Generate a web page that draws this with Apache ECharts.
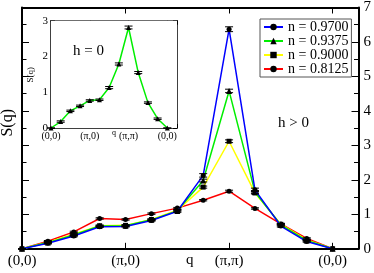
<!DOCTYPE html>
<html><head><meta charset="utf-8">
<script src="https://cdn.jsdelivr.net/npm/echarts@6/dist/echarts.min.js"></script>
<style>html,body{margin:0;padding:0;background:#fff}#c{width:374px;height:273px}</style>
</head><body><div id="c"></div>
<script>
const qIndex = [0,1,2,3,4,5,6,7,8,9,10,11,12];
const tickLabels = ['(0,0)','(π,0)','(π,π)','(0,0)'];
const yTicks = [0,1,2,3,4,5,6,7];
const names = ['n = 0.9700','n = 0.9375','n = 0.9000','n = 0.8125'];
const s0970 = [0, 0.16, 0.37, 0.64, 0.65, 0.82, 1.09, 2.13, 6.37, 1.71, 0.66, 0.21, 0];
const s09375 = [0, 0.18, 0.40, 0.66, 0.67, 0.84, 1.10, 1.98, 4.58, 1.65, 0.69, 0.24, 0];
const s0900 = [0, 0.19, 0.42, 0.67, 0.68, 0.85, 1.12, 1.79, 3.12, 1.62, 0.71, 0.26, 0];
const s08125 = [0, 0.22, 0.49, 0.88, 0.85, 1.02, 1.18, 1.41, 1.67, 1.17, 0.72, 0.30, 0];
const e0970 = [0, 0.02, 0.02, 0.02, 0.02, 0.02, 0.03, 0.05, 0.07, 0.05, 0.03, 0.02, 0];
const e09375 = [0, 0.02, 0.02, 0.02, 0.02, 0.02, 0.03, 0.04, 0.05, 0.04, 0.03, 0.02, 0];
const e0900 = [0, 0.02, 0.02, 0.02, 0.02, 0.02, 0.02, 0.03, 0.04, 0.03, 0.02, 0.02, 0];
const e08125 = [0, 0.02, 0.02, 0.02, 0.02, 0.02, 0.02, 0.02, 0.03, 0.02, 0.02, 0.02, 0];
const h0 = [0, 0.18, 0.48, 0.62, 0.77, 0.79, 1.13, 1.79, 2.81, 1.55, 0.71, 0.26, 0];
const eh0 = [0, 0.02, 0.02, 0.02, 0.02, 0.02, 0.03, 0.03, 0.04, 0.03, 0.02, 0.02, 0];

const FONT = 'Liberation Serif';
const colors = ['#0000ff','#00ee00','#ffff00','#ff0000'];
const symbols = ['circle','triangle','rect','circle'];
const mainData = [s0970, s09375, s0900, s08125];
const mainErr = [e0970, e09375, e0900, e08125];

function fmt(v){ return (v % 4 === 0 && v/4 < tickLabels.length) ? tickLabels[v/4] : ''; }

function errSeries(vals, errs, xi, yi, cap){
  return {
    type:'custom', xAxisIndex:xi, yAxisIndex:yi, silent:true, z:6,
    data: vals.map((v,i)=>[qIndex[i], v, errs[i]]),
    renderItem:(params, api)=>{
      const x=api.value(0), y=api.value(1), e=api.value(2);
      const t=api.coord([x,y+e]), b=api.coord([x,y-e]);
      const st={stroke:'#000', lineWidth:1};
      return {type:'group', children:[
        {type:'line', shape:{x1:t[0],y1:t[1],x2:b[0],y2:b[1]}, style:st},
        {type:'line', shape:{x1:t[0]-cap,y1:t[1],x2:t[0]+cap,y2:t[1]}, style:st},
        {type:'line', shape:{x1:b[0]-cap,y1:b[1],x2:b[0]+cap,y2:b[1]}, style:st}
      ]};
    }
  };
}

function xAx(grid, pos, labels, fs, tickLen){
  return {type:'value', gridIndex:grid, position:pos, min:0, max:13, interval:4,
    axisLine:{show:true, onZero:false, lineStyle:{color:'#000', width: grid===0?2:1.5}},
    axisTick:{show:true, inside:true, length:tickLen, lineStyle:{color:'#000'}},
    axisLabel:{show:labels, formatter:fmt, color:'#000', fontFamily:FONT, fontSize:fs, margin: grid===0?5:3, showMaxLabel:true},
    splitLine:{show:false}};
}
function yAx(grid, pos, labels, max, fs, tickLen){
  return {type:'value', gridIndex:grid, position:pos, min:0, max:max, interval:1,
    axisLine:{show:true, onZero:false, lineStyle:{color:'#000', width: grid===0?2:1.5}},
    axisTick:{show:true, inside:true, length:tickLen, lineStyle:{color:'#000'}},
    minorTick:{show:true, splitNumber:2, length:tickLen/2+1, lineStyle:{color:'#000'}},
    axisLabel:{show:labels, color:'#000', fontFamily:FONT, fontSize:fs, margin: grid===0?5:3},
    splitLine:{show:false}};
}

const series = [];
mainData.forEach((d,k)=>{
  series.push({name:names[k], type:'line', xAxisIndex:0, yAxisIndex:0,
    data:d.map((v,i)=>[qIndex[i], v]), symbol:symbols[k], symbolSize: k===1?6:5,
    lineStyle:{color:colors[k], width:1.5}, itemStyle:{color:'#000'}, z:3-k+2});
});
mainData.forEach((d,k)=> series.push(errSeries(d, mainErr[k], 0, 0, 4)));
series.push({name:'h0', type:'line', xAxisIndex:2, yAxisIndex:2,
  data:h0.map((v,i)=>[qIndex[i], v]), symbol:'triangle', symbolSize:5,
  lineStyle:{color:'#00ee00', width:1.5}, itemStyle:{color:'#000'}, z:12});
series.push(Object.assign(errSeries(h0, eh0, 2, 2, 4), {z:13}));

const chart = echarts.init(document.getElementById('c'), null, {renderer:'canvas'});
chart.setOption({
  animation:false,
  backgroundColor:'#fff',
  grid:[
    {left:22, right:12.3, top:6, bottom:24.2},
    {left:51, right:197, top:20.7, bottom:145, show:true, backgroundColor:'#fff', borderWidth:0, z:8}
  ],
  xAxis:[ xAx(0,'bottom',true,15,6), xAx(0,'top',false,15,6), xAx(1,'bottom',true,10,4), xAx(1,'top',false,10,4) ],
  yAxis:[ yAx(0,'left',false,7,15,7), yAx(0,'right',true,7,15,7), yAx(1,'left',true,3,11,4), yAx(1,'right',false,3,11,4) ],
  legend:{data:names, left:260, top:19, orient:'vertical', itemGap:0, itemWidth:19, itemHeight:8,
    padding:[1,3,1,3], borderColor:'#555', borderWidth:1, backgroundColor:'#fff',
    textStyle:{fontFamily:FONT, fontSize:14, color:'#000', lineHeight:14}},
  graphic:[
    {type:'text', left:0, top:109, rotation:Math.PI/2, style:{text:'S(q)', font:'16px "Liberation Serif"', fill:'#000'}},
    {type:'text', left:186, top:253, style:{text:'q', font:'15px "Liberation Serif"', fill:'#000'}},
    {type:'text', left:278, top:116, style:{text:'h > 0', font:'15px "Liberation Serif"', fill:'#000'}},
    {type:'text', left:73, top:44, z:20, style:{text:'h = 0', font:'15px "Liberation Serif"', fill:'#000'}},
    {type:'text', left:26, top:67, z:20, rotation:Math.PI/2, style:{text:'S(q)', font:'9px "Liberation Serif"', fill:'#000'}},
    {type:'text', left:112, top:129, z:20, style:{text:'q', font:'8px "Liberation Serif"', fill:'#000'}}
  ],
  series:series
});
</script></body></html>
